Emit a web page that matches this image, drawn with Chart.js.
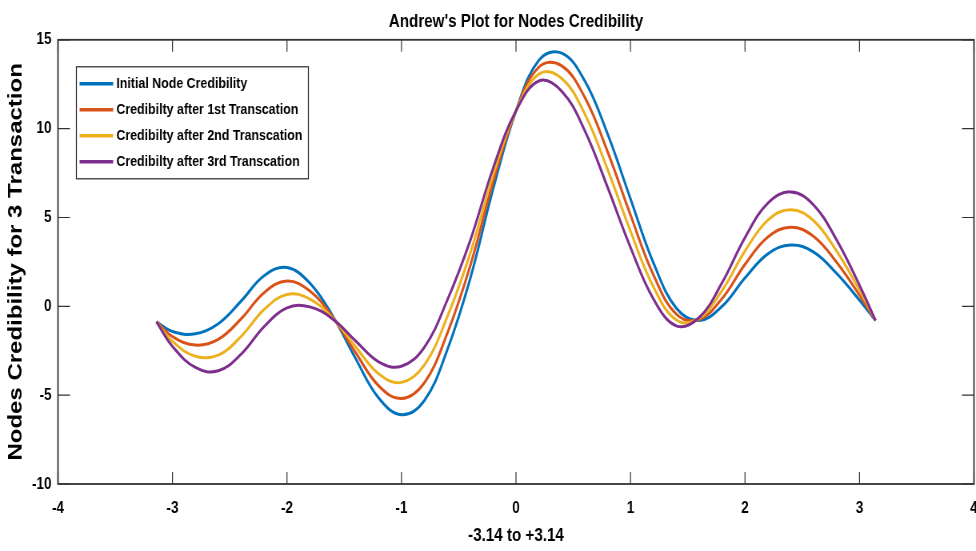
<!DOCTYPE html>
<html>
<head>
<meta charset="utf-8">
<title>Andrew's Plot for Nodes Credibility</title>
<script src="https://cdn.jsdelivr.net/npm/chart.js@4.4.1/dist/chart.umd.min.js"></script>
<style>
  html, body { margin: 0; padding: 0; background: #fff; overflow: hidden; }
</style>
</head>
<body>
<!-- the canvas is drawn wider and squeezed to 976px, so the text looks narrow like the original -->
<canvas id="grafico" width="1220" height="551" style="display:block;width:976px;height:551px"></canvas>
<script>
// t goes from -3.14 to +3.14
const valores_t = [-3.14, -3.0, -2.8, -2.6, -2.4, -2.2, -2.0, -1.8, -1.6, -1.4, -1.2, -1.0, -0.8, -0.6, -0.4, -0.2, 0,
                   0.2, 0.4, 0.6, 0.8, 1.0, 1.2, 1.4, 1.6, 1.8, 2.0, 2.2, 2.4, 2.6, 2.8, 3.0, 3.14];

const cred_inicial = [-0.87, -1.42, -1.55, -0.98, 0.30, 1.72, 2.18, 1.30, -0.55, -2.95, -5.15, -6.1, -5.3, -2.45, 1.55, 6.6, 11.0,
                      13.85, 14.25, 12.7, 9.7, 6.05, 2.45, -0.1, -0.8, 0.0, 1.6, 2.95, 3.45, 3.05, 1.85, 0.35, -0.8];
const cred_trans1 = [-0.87, -1.70, -2.18, -1.86, -0.70, 0.77, 1.42, 0.86, -0.61, -2.61, -4.47, -5.19, -4.30, -1.52, 2.27, 6.99, 11.0,
                     13.46, 13.53, 11.77, 8.70, 5.14, 1.77, -0.44, -0.74, 0.44, 2.36, 3.90, 4.45, 3.93, 2.48, 0.63, -0.8];
const cred_trans2 = [-0.87, -1.98, -2.81, -2.75, -1.69, -0.18, 0.67, 0.41, -0.67, -2.28, -3.80, -4.28, -3.30, -0.59, 2.98, 7.38, 11.0,
                     13.07, 12.82, 10.84, 7.70, 4.23, 1.10, -0.77, -0.68, 0.89, 3.11, 4.85, 5.44, 4.82, 3.11, 0.91, -0.8];
const cred_trans3 = [-0.87, -2.26, -3.44, -3.63, -2.69, -1.14, -0.09, -0.03, -0.72, -1.95, -3.12, -3.37, -2.30, 0.35, 3.70, 7.77, 11.0,
                     12.68, 12.10, 9.90, 6.70, 3.32, 0.42, -1.10, -0.63, 1.33, 3.87, 5.81, 6.44, 5.70, 3.74, 1.19, -0.8];

const nombres_series = ['Initial Node Credibility', 'Credibilty after 1st Transcation',
                        'Credibilty after 2nd Transcation', 'Credibilty after 3rd Transcation'];
const colores_series = ['#0072BD', '#D95319', '#EDB120', '#7E2F8E'];
const todas_series = [cred_inicial, cred_trans1, cred_trans2, cred_trans3];

const fuente = "'Liberation Sans', Arial, sans-serif";

// caja y marcas hacia adentro, estilo matlab
const marcoPlugin = {
    id: 'marco',
    afterDraw(chart) {
        const { ctx, chartArea: a, scales } = chart;
        ctx.save();
        ctx.strokeStyle = '#333333';
        ctx.lineWidth = 1.2;
        ctx.beginPath();
        scales.x.ticks.forEach(t => {
            const px = scales.x.getPixelForValue(t.value);
            ctx.moveTo(px, a.bottom); ctx.lineTo(px, a.bottom - 12);
            ctx.moveTo(px, a.top); ctx.lineTo(px, a.top + 12);
        });
        scales.y.ticks.forEach(t => {
            const py = scales.y.getPixelForValue(t.value);
            ctx.moveTo(a.left, py); ctx.lineTo(a.left + 15, py);
            ctx.moveTo(a.right, py); ctx.lineTo(a.right - 15, py);
        });
        ctx.stroke();
        ctx.lineWidth = 1.8;
        ctx.strokeRect(a.left, a.top, a.right - a.left, a.bottom - a.top);
        ctx.restore();
    }
};

// leyenda con borde dentro del area
const leyendaPlugin = {
    id: 'leyenda',
    afterDraw(chart) {
        const { ctx, chartArea: a } = chart;
        const x0 = a.left + 23, y0 = a.top + 27, w = 290, h = 112;
        ctx.save();
        ctx.fillStyle = '#fff';
        ctx.fillRect(x0, y0, w, h);
        ctx.strokeStyle = '#262626';
        ctx.lineWidth = 1.2;
        ctx.strokeRect(x0, y0, w, h);
        ctx.font = 'bold 15.5px ' + fuente;
        ctx.textBaseline = 'middle';
        ctx.textAlign = 'left';
        chart.data.datasets.forEach((ds, i) => {
            const y = y0 + 17 + i * 26;
            ctx.strokeStyle = ds.borderColor;
            ctx.lineWidth = 3.5;
            ctx.beginPath();
            ctx.moveTo(x0 + 4, y);
            ctx.lineTo(x0 + 46, y);
            ctx.stroke();
            ctx.fillStyle = '#000';
            ctx.fillText(ds.label, x0 + 50, y);
        });
        ctx.restore();
    }
};

const ctx = document.getElementById('grafico').getContext('2d');
const grafico = new Chart(ctx, {
    type: 'line',
    data: {
        datasets: todas_series.map((serie, i) => ({
            label: nombres_series[i],
            data: serie.map((v, j) => ({ x: valores_t[j], y: v })),
            borderColor: colores_series[i],
            backgroundColor: colores_series[i],
            borderWidth: 3,
            pointRadius: 0,
            tension: 0.4,
            fill: false,
            order: 3 - i
        }))
    },
    options: {
        responsive: false,
        animation: false,
        devicePixelRatio: 1,
        layout: { padding: { left: 0, right: 2.5, top: 0, bottom: 0 } },
        plugins: {
            legend: { display: false },
            tooltip: { enabled: false },
            title: {
                display: true,
                text: "Andrew's Plot for Nodes Credibility",
                color: '#000',
                fullSize: false,
                font: { family: fuente, size: 19, weight: 'bold' },
                padding: { top: 10, bottom: 7 }
            }
        },
        scales: {
            x: {
                type: 'linear',
                min: -4,
                max: 4,
                grid: { display: false, drawTicks: false },
                border: { display: false },
                ticks: {
                    stepSize: 1,
                    color: '#000',
                    padding: 14,
                    maxRotation: 0,
                    font: { family: fuente, size: 17, weight: 'bold' }
                },
                title: {
                    display: true,
                    text: '-3.14 to +3.14',
                    color: '#000',
                    font: { family: fuente, size: 19, weight: 'bold' },
                    padding: { top: 0, bottom: 4 }
                },
                afterFit(scale) {
                    scale.height = 67;
                    scale.paddingLeft = 0;
                    scale.paddingRight = 0;
                }
            },
            y: {
                min: -10,
                max: 15,
                grid: { display: false, drawTicks: false },
                border: { display: false },
                ticks: {
                    stepSize: 5,
                    color: '#000',
                    padding: 8,
                    font: { family: fuente, size: 17, weight: 'bold' }
                },
                title: {
                    display: true,
                    text: 'Nodes Credibility for 3 Transaction',
                    color: '#000',
                    font: { family: fuente, size: 24, weight: 'bold' },
                    padding: { top: 6, bottom: 0 }
                },
                afterFit(scale) {
                    scale.width = 72.5;
                }
            }
        }
    },
    plugins: [marcoPlugin, leyendaPlugin]
});
</script>
</body>
</html>
